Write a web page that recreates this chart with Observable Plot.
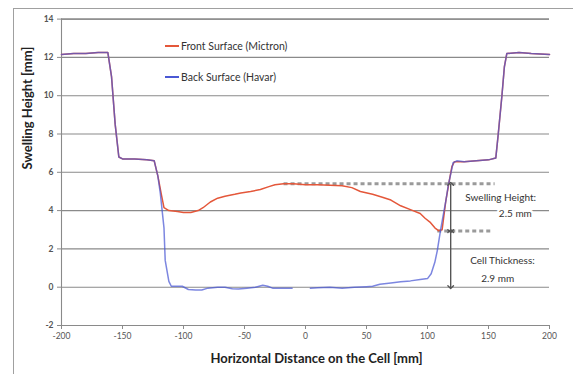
<!DOCTYPE html>
<html>
<head>
<meta charset="utf-8">
<script src="https://cdn.jsdelivr.net/npm/d3@7"></script>
<script src="https://cdn.jsdelivr.net/npm/@observablehq/plot@0.6"></script>
<style>
  html, body { margin: 0; padding: 0; background: #fff; }
  #wrap { position: relative; width: 573px; height: 374px; overflow: hidden; font-family: Lato, "DejaVu Sans", sans-serif; }
  #border { position: absolute; left: 13px; top: 8px; width: 700px; height: 500px; border-left: 1.5px solid #a0a0a0; border-top: 1.5px solid #a0a0a0; pointer-events: none; }
  .leg { position: absolute; left: 165px; font-size: 10.5px; color: #333; white-space: nowrap; }
  .leg span.sw { display: inline-block; width: 14px; height: 2px; vertical-align: middle; margin-right: 2px; position: relative; top: -1px; }
  svg { position: absolute; left: 0; top: 0; }
</style>
</head>
<body>
<div id="wrap">
  <div id="border"></div>
</div>
<script>
// ---- data ----
const xTicks = [-200, -150, -100, -50, 0, 50, 100, 150, 200];
const yTicks = [-2, 0, 2, 4, 6, 8, 10, 12, 14];

const frontX = [-200, -190, -180, -170, -162, -159, -156, -153, -150, -140, -130, -124, -121, -118,
  -116, -112, -105, -100, -94, -88, -84, -78, -72, -66, -58, -53, -45, -37, -30, -25, -18, -10, 0, 10, 20, 30, 38, 45, 55, 63, 70, 78, 86, 94, 98, 102, 106, 109, 112,
  115, 118, 120, 122, 130, 140, 150, 156, 158, 161, 163, 165, 175, 185, 200];
const frontY = [12.15, 12.2, 12.2, 12.25, 12.25, 11.0, 8.5, 6.8, 6.7, 6.7, 6.65, 6.6, 5.8, 4.8,
  4.15, 4.0, 3.95, 3.9, 3.9, 4.0, 4.15, 4.45, 4.65, 4.75, 4.85, 4.92, 5.0, 5.1, 5.25, 5.35, 5.4, 5.4, 5.35, 5.35, 5.32, 5.3, 5.2, 5.0, 4.85, 4.7, 4.55, 4.25, 4.05, 3.85, 3.6, 3.4, 3.1, 2.95, 3.0,
  4.5, 5.6, 6.3, 6.55, 6.55, 6.6, 6.65, 6.75, 8.0, 10.0, 11.5, 12.2, 12.25, 12.2, 12.15];

const backX = [-200, -190, -180, -170, -162, -159, -156, -153, -150, -140, -130, -124, -121, -119, -116, -115, -112, -110, -105, -101, -96, -90, -85, -80, -72, -66, -60, -55, -48, -41, -35, -31, -27, -20, -11,
  -5, 4, 10, 20, 30, 40, 50, 55, 61, 70, 78, 86, 94, 100, 103, 106, 108, 110.5, 113, 115, 117, 119, 121, 124, 130, 140, 150, 156, 158, 161, 163, 165, 175, 185, 200];
const backY = [12.15, 12.2, 12.2, 12.25, 12.25, 11.0, 8.5, 6.8, 6.7, 6.7, 6.65, 6.6, 5.8, 4.9, 3.1, 1.4, 0.3, 0.05, 0.05, 0.05, -0.12, -0.15, -0.15, -0.05, 0, 0, -0.08, -0.1, -0.05, 0, 0.1, 0.05, -0.05, -0.05, -0.05,
  null, -0.05, -0.03, 0, -0.05, 0, 0.03, 0.05, 0.15, 0.22, 0.28, 0.33, 0.4, 0.45, 0.7, 1.3, 1.9, 2.9, 3.8, 4.5, 5.3, 5.9, 6.5, 6.6, 6.55, 6.6, 6.65, 6.75, 8.0, 10.0, 11.5, 12.2, 12.25, 12.2, 12.15];

// annotation values
const dashLevels = [ {x1: -18, x2: 155, y: 5.4}, {x1: 108, x2: 153, y: 2.93} ];
const arrowX = 119;
const swellTop = 5.4, swellBottom = 2.93, baseLevel = 0;
const notes = [
  {x: 160, y: 4.66, text: "Swelling Height:"},
  {x: 172, y: 3.82, text: "2.5 mm"},
  {x: 161.5, y: 1.36, text: "Cell Thickness:"},
  {x: 157.5, y: 0.42, text: "2.9 mm"}
];
const seriesNames = ["Front Surface (Mictron)", "Back Surface (Havar)"];
const seriesColors = ["#e4573a", "#4a58d4"];

const front = frontX.map((x, i) => ({x, y: frontY[i]}));
const back = backX.map((x, i) => ({x, y: backY[i]}));
const fmt = d => String(d);

const chart = Plot.plot({
  width: 573,
  height: 374,
  marginLeft: 61,
  marginRight: 24,
  marginTop: 18.6,
  marginBottom: 49,
  style: {fontFamily: "Lato, 'DejaVu Sans', sans-serif", background: "transparent", color: "#444"},
  x: {domain: [-200, 200]},
  y: {domain: [-2, 14]},
  marks: [
    Plot.gridY(yTicks, {stroke: "#8a8a8a", strokeOpacity: 1, strokeWidth: 1.1}),
    Plot.ruleY([14, -2], {stroke: "#8a8a8a", strokeWidth: 1.1}),
    Plot.ruleX([-200], {stroke: "#8a8a8a", strokeWidth: 1.1}),
    Plot.axisX({ticks: xTicks, tickFormat: fmt, tickSize: 4, tickPadding: 3, fontSize: 8.5, label: null, stroke: "#8a8a8a", fill: "#555"}),
    Plot.axisY({ticks: yTicks, tickFormat: fmt, tickSize: 4, tickPadding: 4, fontSize: 8.5, label: null, stroke: "#8a8a8a", fill: "#555", fontWeight: "bold"}),
    Plot.text(["Swelling Height [mm]"], {frameAnchor: "top-left", textAnchor: "middle", lineAnchor: "middle", dx: -34, dy: 89, rotate: -90, fontSize: 13, fontWeight: "bold", fill: "#222", letterSpacing: "1.2px"}),
    Plot.text(["Horizontal Distance on the Cell [mm]"], {frameAnchor: "bottom", dx: 11, dy: 37, fontSize: 13, fontWeight: "bold", fill: "#222"}),
    // dashed reference levels
    Plot.link(dashLevels, {x1: "x1", x2: "x2", y1: "y", y2: "y", stroke: "#9a9a9a", strokeWidth: 3, strokeDasharray: "4,3"}),
    // series
    Plot.line(front, {x: "x", y: "y", stroke: seriesColors[0], strokeWidth: 1.5, curve: "linear"}),
    Plot.line(back, {x: "x", y: "y", stroke: seriesColors[1], strokeWidth: 1.5, strokeOpacity: 0.72, curve: "linear"}),
    // measurement arrows
    Plot.link([{y1: swellBottom, y2: swellTop}, {y1: swellBottom, y2: baseLevel}], {x: arrowX, y1: "y1", y2: "y2", stroke: "#555", strokeWidth: 1.4, markerStart: "arrow", markerEnd: "arrow"}),
    Plot.text(notes, {x: "x", y: "y", text: "text", fontSize: 10, fill: "#333", stroke: "white", strokeWidth: 5, paintOrder: "stroke"})
  ]
});

const wrap = document.getElementById("wrap");
wrap.insertBefore(chart, wrap.firstChild);

const legTops = [40, 71];
seriesNames.forEach((name, i) => {
  const d = document.createElement("div");
  d.className = "leg";
  d.style.top = legTops[i] + "px";
  d.innerHTML = `<span class="sw" style="background:${seriesColors[i]}"></span>${name}`;
  wrap.appendChild(d);
});
</script>
</body>
</html>
